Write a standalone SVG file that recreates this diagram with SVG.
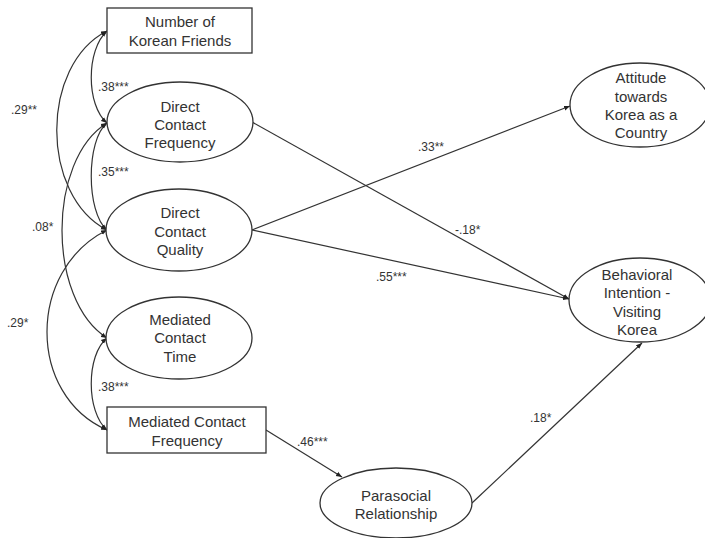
<svg xmlns="http://www.w3.org/2000/svg" width="705" height="538" viewBox="0 0 705 538">
<defs>
<marker id="ah" viewBox="0 0 10 10" refX="10" refY="5" markerWidth="6" markerHeight="6" markerUnits="userSpaceOnUse" orient="auto-start-reverse">
<path d="M0,1 L10,5 L0,9 Z" fill="#222"/>
</marker>
</defs>
<style>
.node{fill:#fff;stroke:#333;stroke-width:1.3}
.t{font-family:"Liberation Sans",Arial,sans-serif;font-size:15px;fill:#333;text-anchor:middle}
.lbl{font-family:"Liberation Sans",Arial,sans-serif;font-size:12px;fill:#333}
.c{fill:none;stroke:#333;stroke-width:1.2}
</style>
<rect width="705" height="538" fill="#fff"/>
<g id="connectors">
<path class="c" d="M107,31 C86,50 86,105 107,123" marker-start="url(#ah)" marker-end="url(#ah)"/>
<path class="c" d="M107,31 C40,65 40,195 107,230" marker-start="url(#ah)" marker-end="url(#ah)"/>
<path class="c" d="M107,123 C86,140 86,212 107,230" marker-start="url(#ah)" marker-end="url(#ah)"/>
<path class="c" d="M107,123 C47,160 47,300 107,338" marker-start="url(#ah)" marker-end="url(#ah)"/>
<path class="c" d="M107,230 C27,270 27,395 107,430" marker-start="url(#ah)" marker-end="url(#ah)"/>
<path class="c" d="M107,338 C86,355 86,412 107,430" marker-start="url(#ah)" marker-end="url(#ah)"/>
<line class="c" x1="252" y1="122" x2="569" y2="299" marker-end="url(#ah)"/>
<line class="c" x1="252" y1="230" x2="570" y2="106" marker-end="url(#ah)"/>
<line class="c" x1="252" y1="230" x2="569" y2="299" marker-end="url(#ah)"/>
<line class="c" x1="266" y1="430" x2="342" y2="477" marker-end="url(#ah)"/>
<line class="c" x1="472" y1="503" x2="642" y2="343" marker-end="url(#ah)"/>
</g>
<g id="labels">
<text class="lbl" x="98" y="91">.38***</text>
<text class="lbl" x="11" y="114">.29**</text>
<text class="lbl" x="98" y="176">.35***</text>
<text class="lbl" x="32" y="231">.08*</text>
<text class="lbl" x="7" y="327">.29*</text>
<text class="lbl" x="98" y="391">.38***</text>
<text class="lbl" x="297" y="446">.46***</text>
<text class="lbl" x="418" y="151">.33**</text>
<text class="lbl" x="455" y="234">-.18*</text>
<text class="lbl" x="376" y="281">.55***</text>
<text class="lbl" x="530" y="422">.18*</text>
</g>
<g id="nkf">
<rect class="node" x="107" y="8" width="145" height="45"/>
<text class="t" x="180" y="27">Number of</text>
<text class="t" x="180" y="46">Korean Friends</text>
</g>
<g id="dcf">
<ellipse class="node" cx="180" cy="122" rx="73" ry="40"/>
<text class="t" x="180" y="112">Direct</text>
<text class="t" x="180" y="130">Contact</text>
<text class="t" x="180" y="148">Frequency</text>
</g>
<g id="dcq">
<ellipse class="node" cx="179" cy="230" rx="73" ry="41"/>
<text class="t" x="180" y="218">Direct</text>
<text class="t" x="180" y="237">Contact</text>
<text class="t" x="180" y="255">Quality</text>
</g>
<g id="mct">
<ellipse class="node" cx="179" cy="338" rx="73" ry="41"/>
<text class="t" x="180" y="325">Mediated</text>
<text class="t" x="180" y="343">Contact</text>
<text class="t" x="180" y="362">Time</text>
</g>
<g id="mcf">
<rect class="node" x="107" y="407" width="159" height="46"/>
<text class="t" x="187" y="427">Mediated Contact</text>
<text class="t" x="187" y="446">Frequency</text>
</g>
<g id="psr">
<ellipse class="node" cx="396" cy="503" rx="76" ry="35"/>
<text class="t" x="396" y="501">Parasocial</text>
<text class="t" x="396" y="519">Relationship</text>
</g>
<g id="att">
<ellipse class="node" cx="640" cy="105" rx="70" ry="42"/>
<text class="t" x="641" y="83">Attitude</text>
<text class="t" x="641" y="102">towards</text>
<text class="t" x="641" y="120">Korea as a</text>
<text class="t" x="641" y="138">Country</text>
</g>
<g id="bi">
<ellipse class="node" cx="640" cy="300" rx="71" ry="42"/>
<text class="t" x="637" y="280">Behavioral</text>
<text class="t" x="637" y="298">Intention -</text>
<text class="t" x="637" y="317">Visiting</text>
<text class="t" x="637" y="335">Korea</text>
</g>
</svg>
